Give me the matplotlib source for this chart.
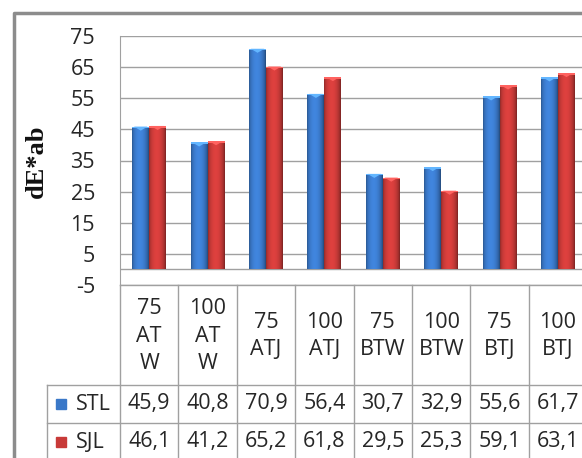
import numpy as np
import matplotlib
matplotlib.use('Agg')
import matplotlib.pyplot as plt
from matplotlib.lines import Line2D
from matplotlib.patches import Polygon, Rectangle
import matplotlib.transforms as mtransforms

categories = ['75\nAT\nW', '100\nAT\nW', '75\nATJ', '100\nATJ', '75\nBTW', '100\nBTW', '75\nBTJ', '100\nBTJ']
stl = [45.9, 40.8, 70.9, 56.4, 30.7, 32.9, 55.6, 61.7]
sjl = [46.1, 41.2, 65.2, 61.8, 29.5, 25.3, 59.1, 63.1]
series_names = ['STL', 'SJL']
yticks = [-5, 5, 15, 25, 35, 45, 55, 65, 75]

W, H = 582, 458
plt.rcParams['font.family'] = ['Open Sans', 'DejaVu Sans']
fig = plt.figure(figsize=(W / 100, H / 100), dpi=100)

def fx(px):
    return px / W

def fy(py):
    return 1 - py / H

grid_c = '#a0a0a0'
text_c = '#262626'
colors = ['#3a78c8', '#c83a38']
fs = 15.5

# plot area: x from 120 px, 8 columns of ~58.4 px (last one cut by edge)
col_w = 58.4
ax = fig.add_axes([fx(120), fy(285), fx(8 * col_w), (285 - 36) / H])
ax.set_xlim(-0.5, len(categories) - 0.5)
ax.set_ylim(-5, 75)
for s in ['top', 'right', 'bottom']:
    ax.spines[s].set_visible(False)
ax.spines['left'].set_color(grid_c)
ax.set_yticks(yticks)
ax.set_yticklabels([str(t) for t in yticks], fontsize=fs, color=text_c)
ax.tick_params(axis='y', length=0, pad=18)
ax.set_xticks([])
for t in yticks:
    ax.axhline(t, color=grid_c, lw=1, zorder=0)
ax.axhline(0, color=grid_c, lw=1, zorder=0)

x = np.arange(len(categories))
bw = 0.29

def shade(col, n=40):
    c = np.array(matplotlib.colors.to_rgb(col))
    u = np.linspace(0, 1, n)
    f = 0.72 + 0.45 * np.sin(np.pi * u) ** 0.6 - 0.12 * u
    img = np.clip(c[None, :] * f[:, None], 0, 1)
    return img[None, :, :]

for k, vals in enumerate([stl, sjl]):
    bars = ax.bar(x + (k - 0.5) * bw, vals, bw, color=colors[k], zorder=2, linewidth=0)
    for b in bars:
        x0, w, h = b.get_x(), b.get_width(), b.get_height()
        im = ax.imshow(shade(colors[k]), extent=[x0, x0 + w, 0, h], aspect='auto', zorder=3)
        im.set_clip_path(b)
        light = np.clip(np.array(matplotlib.colors.to_rgb(colors[k])) * 1.35 + 0.08, 0, 1)
        ax.add_patch(Polygon([[x0 + w * 0.1, h], [x0 + w * 0.9, h], [x0 + w * 0.5, h - 1.3]],
                             closed=True, color=light, zorder=4, lw=0))
        ax.add_patch(Rectangle((x0, h - 0.5), w, 0.5, color=light, zorder=4, lw=0))
ax.set_xlim(-0.5, len(categories) - 0.5)
ax.set_ylim(-5, 75)

# data table below the plot
tr = mtransforms.blended_transform_factory(ax.transData, fig.transFigure)
xr = len(categories) - 0.5
lkw = dict(color=grid_c, lw=1)
fig.add_artist(Line2D([-0.5, xr], [fy(285), fy(285)], transform=tr, **lkw))
fig.add_artist(Line2D([fx(47), fx(120 + 8 * col_w)], [fy(385), fy(385)], transform=fig.transFigure, **lkw))
fig.add_artist(Line2D([fx(47), fx(120 + 8 * col_w)], [fy(423), fy(423)], transform=fig.transFigure, **lkw))
fig.add_artist(Line2D([fx(47), fx(47)], [fy(385), 0], transform=fig.transFigure, **lkw))
for i in range(len(categories) + 1):
    fig.add_artist(Line2D([i - 0.5, i - 0.5], [fy(285), 0], transform=tr, **lkw))

for i, c in enumerate(categories):
    fig.text(i, fy(336), c, transform=tr, ha='center', va='center', fontsize=fs,
             color=text_c, linespacing=1.4)

row_y = [404, 442]
for r, (name, vals) in enumerate(zip(series_names, [stl, sjl])):
    fig.add_artist(Rectangle((fx(56), fy(row_y[r] + 5)), fx(10), 10 / H,
                             transform=fig.transFigure, color=colors[r]))
    fig.text(fx(76), fy(row_y[r]), name, ha='left', va='center', fontsize=fs, color=text_c)
    for i, v in enumerate(vals):
        fig.text(i, fy(row_y[r]), f'{v:.1f}'.replace('.', ','), transform=tr,
                 ha='center', va='center', fontsize=fs, color=text_c)

# y axis title
fig.text(fx(36), fy(161), 'dE*ab', rotation=90, ha='center', va='center',
         fontsize=19, fontweight='bold', family='Liberation Serif', color='#111111')

# chart outer border
fig.add_artist(Line2D([fx(14), fx(14), 1.01], [0, fy(13), fy(13)],
                      transform=fig.transFigure, color='#8c8c8c', lw=2.5))

fig.savefig('out.png', dpi=100)
